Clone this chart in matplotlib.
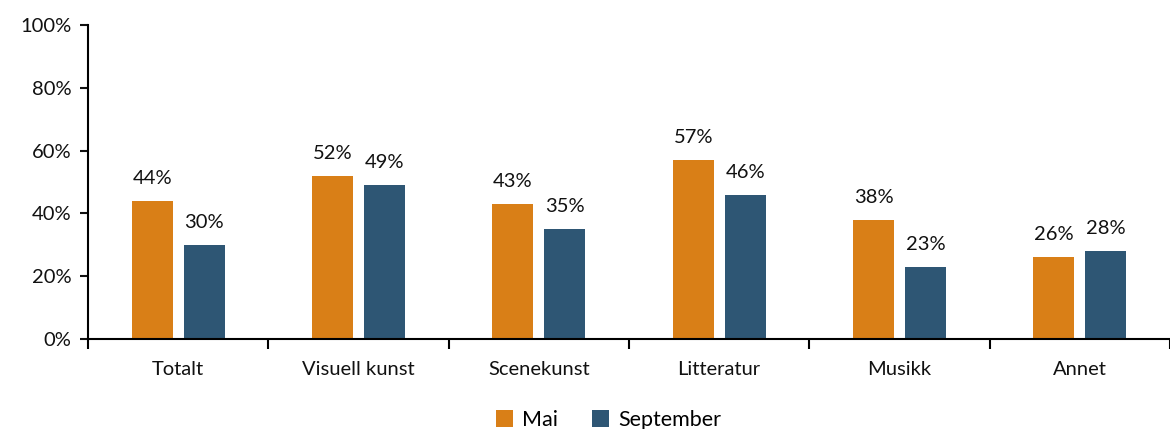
import matplotlib.pyplot as plt
import numpy as np

categories = ["Totalt", "Visuell kunst", "Scenekunst", "Litteratur", "Musikk", "Annet"]
mai = [44, 52, 43, 57, 38, 26]
september = [30, 49, 35, 46, 23, 28]
series_names = ["Mai", "September"]

plt.rcParams["font.family"] = ["Lato", "DejaVu Sans"]
plt.rcParams["font.size"] = 14.5

fig = plt.figure(figsize=(11.7, 4.29), dpi=100)
ax = fig.add_axes([88 / 1170, 1 - 339 / 429, 1 - 88 / 1170, (339 - 25) / 429])

x = np.arange(len(categories))
w = 0.228
off = 0.144
colors = ["#D97F17", "#2E5674"]

for vals, dx, c, name in zip([mai, september], [-off, off], colors, series_names):
    bars = ax.bar(x + dx, vals, width=w, color=c, label=name)
    for b, v in zip(bars, vals):
        ax.annotate(f"{v}%", (b.get_x() + b.get_width() / 2, v),
                    xytext=(0, 10), textcoords="offset points",
                    ha="center", va="bottom", color="#111111")

ax.set_xlim(-0.5, len(categories) - 0.5)
ax.set_ylim(0, 100)
ax.set_yticks(range(0, 101, 20))
ax.set_yticklabels([f"{t}%" for t in range(0, 101, 20)])
ax.set_xticks(x)
ax.set_xticklabels(categories)
ax.set_xticks(np.arange(-0.5, len(categories), 1), minor=True)
ax.tick_params(axis="x", which="major", length=0, pad=16)
ax.tick_params(axis="x", which="minor", length=7, width=1.5, direction="out")
ax.tick_params(axis="y", length=6, width=1.5, pad=6)
ax.tick_params(colors="#111111")

for s in ["top", "right"]:
    ax.spines[s].set_visible(False)
for s in ["left", "bottom"]:
    ax.spines[s].set_linewidth(1.5)

fig.legend(loc="upper center", bbox_to_anchor=(0.52, 0.09), ncol=2, frameon=False,
           handlelength=0.8, handleheight=0.8, handletextpad=0.4, columnspacing=1.6,
           fontsize=15.5)

fig.savefig("out.png", dpi=100)
